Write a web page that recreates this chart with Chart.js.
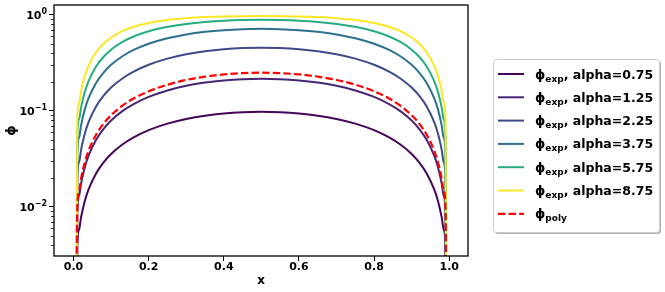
<!DOCTYPE html>
<html>
<head>
<meta charset="utf-8">
<script src="https://cdn.jsdelivr.net/npm/chart.js@4/dist/chart.umd.min.js"></script>
<style>
  body { margin: 0; background: #fff; }
</style>
</head>
<body>
<canvas id="phi_chart" width="665" height="292"></canvas>
<script>
// data set (phi = 0 at the walls x=0 and x=1, written as 1e-12 for the log axis)
var xs = [0, 0.01, 0.015, 0.02, 0.03, 0.04, 0.06, 0.08, 0.1, 0.13, 0.16, 0.2, 0.25, 0.3, 0.35, 0.4, 0.45,
  0.5, 0.55, 0.6, 0.65, 0.7, 0.75, 0.8, 0.84, 0.87, 0.9, 0.92, 0.94, 0.96, 0.97, 0.98, 0.985, 0.99, 1];

var phi_a075 = [1e-12, 0.003916, 0.005843, 0.007749, 0.0115, 0.01517, 0.02226, 0.02903, 0.03547, 0.04452, 0.05286, 0.06285, 0.07356, 0.08229, 0.08908, 0.09392, 0.09682,
  0.09779, 0.09682, 0.09392, 0.08908, 0.08229, 0.07356, 0.06285, 0.05286, 0.04452, 0.03547, 0.02903, 0.02226, 0.01517, 0.0115, 0.007749, 0.005843, 0.003916, 1e-12];
var phi_a125 = [1e-12, 0.008818, 0.01315, 0.01744, 0.02586, 0.03408, 0.04994, 0.06503, 0.07936, 0.09943, 0.1178, 0.1398, 0.1633, 0.1824, 0.1971, 0.2076, 0.2139,
  0.2160, 0.2139, 0.2076, 0.1971, 0.1824, 0.1633, 0.1398, 0.1178, 0.09943, 0.07936, 0.06503, 0.04994, 0.03408, 0.02586, 0.01744, 0.01315, 0.008818, 1e-12];
var phi_a225 = [1e-12, 0.01985, 0.02957, 0.03915, 0.05791, 0.07614, 0.1111, 0.1439, 0.1749, 0.2178, 0.2567, 0.3025, 0.3506, 0.3892, 0.4188, 0.4396, 0.4520,
  0.4561, 0.4520, 0.4396, 0.4188, 0.3892, 0.3506, 0.3025, 0.2567, 0.2178, 0.1749, 0.1439, 0.1111, 0.07614, 0.05791, 0.03915, 0.02957, 0.01985, 1e-12];
var phi_a375 = [1e-12, 0.03591, 0.05334, 0.07043, 0.1036, 0.1355, 0.1956, 0.2510, 0.3020, 0.3711, 0.4319, 0.5014, 0.5719, 0.6264, 0.6670, 0.6950, 0.7114,
  0.7168, 0.7114, 0.6950, 0.6670, 0.6264, 0.5719, 0.5014, 0.4319, 0.3711, 0.3020, 0.2510, 0.1956, 0.1355, 0.1036, 0.07043, 0.05334, 0.03591, 1e-12];
var phi_a575 = [1e-12, 0.05569, 0.08235, 0.1082, 0.1578, 0.2047, 0.2905, 0.3669, 0.4348, 0.5229, 0.5967, 0.6765, 0.7522, 0.8071, 0.8457, 0.8712, 0.8857,
  0.8904, 0.8857, 0.8712, 0.8457, 0.8071, 0.7522, 0.6765, 0.5967, 0.5229, 0.4348, 0.3669, 0.2905, 0.2047, 0.1578, 0.1082, 0.08235, 0.05569, 1e-12];
var phi_a875 = [1e-12, 0.08377, 0.1230, 0.1605, 0.2308, 0.2952, 0.4083, 0.5033, 0.5829, 0.6791, 0.7529, 0.8255, 0.8865, 0.9255, 0.9500, 0.9647, 0.9725,
  0.9750, 0.9725, 0.9647, 0.9500, 0.9255, 0.8865, 0.8255, 0.7529, 0.6791, 0.5829, 0.5033, 0.4083, 0.2952, 0.2308, 0.1605, 0.1230, 0.08377, 1e-12];
var phi_poly = [1e-12, 0.0099, 0.01478, 0.0196, 0.0291, 0.0384, 0.0564, 0.0736, 0.09, 0.1131, 0.1344, 0.16, 0.1875, 0.21, 0.2275, 0.24, 0.2475,
  0.25, 0.2475, 0.24, 0.2275, 0.21, 0.1875, 0.16, 0.1344, 0.1131, 0.09, 0.0736, 0.0564, 0.0384, 0.0291, 0.0196, 0.01478, 0.0099, 1e-12];

var alphas = ['0.75', '1.25', '2.25', '3.75', '5.75', '8.75'];
var expSeries = [phi_a075, phi_a125, phi_a225, phi_a375, phi_a575, phi_a875];
var expColors = ['#450559', '#482475', '#3e4a89', '#2c718e', '#26ad81', '#fde725'];

// ticks
var xTicks = [0, 0.2, 0.4, 0.6, 0.8, 1.0];
var yTicks = [0.01, 0.1, 1];
var yTickExp = ['−2', '−1', '0'];

const FONT = 'DejaVu Sans';
const PHI = 'ϕ';

function toPoints(ys) {
  return xs.map((x, i) => ({ x: x, y: ys[i] }));
}

var datasets = expSeries.map((ys, i) => ({
  label: 'exp|, alpha=' + alphas[i],
  data: toPoints(ys),
  borderColor: expColors[i],
  borderWidth: 2,
  order: 7 - i
}));
datasets.push({
  label: 'poly|',
  data: toPoints(phi_poly),
  borderColor: '#ff0000',
  borderWidth: 2.2,
  borderDash: [7.4, 3.2],
  order: 0
});

// box around the axes, minor log ticks, 10^k labels, legend with subscripts
const extras = {
  id: 'extras',
  afterDraw(chart) {
    const ctx = chart.ctx;
    const a = chart.chartArea;
    const ys = chart.scales.y;
    ctx.save();
    ctx.strokeStyle = '#000';
    ctx.lineWidth = 0.8;
    for (let k = -3; k <= 0; k++) {
      for (let m = 2; m <= 9; m++) {
        const v = m * Math.pow(10, k);
        if (v < ys.min || v > ys.max) continue;
        const py = Math.round(ys.getPixelForValue(v)) + 0.5;
        ctx.beginPath();
        ctx.moveTo(a.left - 3, py);
        ctx.lineTo(a.left, py);
        ctx.stroke();
      }
    }
    ctx.lineWidth = 1.3;
    ctx.strokeRect(a.left, a.top, a.right - a.left, a.bottom - a.top);

    // y tick labels as 10 with a raised exponent
    ctx.fillStyle = '#000';
    ctx.textBaseline = 'alphabetic';
    ctx.textAlign = 'left';
    yTicks.forEach((v, i) => {
      const py = ys.getPixelForValue(v);
      ctx.font = 'bold 8px ' + FONT;
      const ew = ctx.measureText(yTickExp[i]).width;
      ctx.font = 'bold 11px ' + FONT;
      const bw = ctx.measureText('10').width;
      const right = a.left - 7;
      ctx.fillText('10', right - ew - bw, py + 4);
      ctx.font = 'bold 8px ' + FONT;
      ctx.fillText(yTickExp[i], right - ew, py - 0.5);
    });

    // legend
    const bx = 493.5, by = 59.5, bw = 166, bh = 173;
    ctx.fillStyle = 'rgba(0,0,0,0.3)';
    ctx.beginPath();
    ctx.roundRect(bx + 1.5, by + 1.5, bw, bh, 3);
    ctx.fill();
    ctx.fillStyle = '#fff';
    ctx.strokeStyle = '#cccccc';
    ctx.lineWidth = 1;
    ctx.beginPath();
    ctx.roundRect(bx, by, bw, bh, 3);
    ctx.fill();
    ctx.stroke();

    chart.data.datasets.forEach((ds, i) => {
      const cy = 74 + i * 23.3;
      ctx.strokeStyle = ds.borderColor;
      ctx.lineWidth = ds.borderWidth;
      ctx.setLineDash(ds.borderDash || []);
      ctx.beginPath();
      ctx.moveTo(498, cy);
      ctx.lineTo(524, cy);
      ctx.stroke();
      ctx.setLineDash([]);

      const parts = ds.label.split('|');
      const base = cy + 4.5;
      let tx = 535;
      ctx.fillStyle = '#000';
      ctx.font = 'bold 13px ' + FONT;
      ctx.fillText(PHI, tx, base);
      tx += ctx.measureText(PHI).width;
      ctx.font = 'bold 9px ' + FONT;
      ctx.fillText(parts[0], tx, base + 3);
      tx += ctx.measureText(parts[0]).width;
      ctx.font = 'bold 12.5px ' + FONT;
      ctx.fillText(parts[1], tx, base);
    });
    ctx.restore();
  }
};

new Chart('phi_chart', {
  type: 'line',
  data: { datasets: datasets },
  options: {
    responsive: false,
    animation: false,
    devicePixelRatio: 1,
    clip: 0,
    elements: {
      point: { radius: 0 },
      line: { cubicInterpolationMode: 'monotone', fill: false }
    },
    layout: { padding: { left: 0, right: 197, top: 5, bottom: 0 } },
    plugins: {
      legend: { display: false },
      tooltip: { enabled: false }
    },
    scales: {
      x: {
        type: 'linear',
        min: -0.052,
        max: 1.05,
        afterBuildTicks: (scale) => { scale.ticks = xTicks.map(v => ({ value: v })); },
        afterFit: (scale) => { scale.height = 36; },
        grid: { drawOnChartArea: false, tickLength: 5, color: '#000', lineWidth: 1 },
        border: { display: false },
        ticks: {
          color: '#000',
          padding: 0,
          maxRotation: 0,
          autoSkip: false,
          font: { family: FONT, size: 11, weight: 'bold' },
          callback: (v) => Number(v).toFixed(1)
        },
        title: {
          display: true,
          text: 'x',
          color: '#000',
          font: { family: FONT, size: 12, weight: 'bold' },
          padding: { top: 0, bottom: 4 }
        }
      },
      y: {
        type: 'logarithmic',
        min: 0.003062,
        max: 1.271,
        afterBuildTicks: (scale) => { scale.ticks = yTicks.map(v => ({ value: v, major: true })); },
        afterFit: (scale) => { scale.width = 54; },
        grid: { drawOnChartArea: false, tickLength: 5, color: '#000', lineWidth: 1 },
        border: { display: false },
        ticks: { display: false },
        title: {
          display: true,
          text: PHI,
          color: '#000',
          font: { family: FONT, size: 13, weight: 'bold' },
          padding: { top: 4, bottom: 0 }
        }
      }
    }
  },
  plugins: [extras]
});
</script>
</body>
</html>
